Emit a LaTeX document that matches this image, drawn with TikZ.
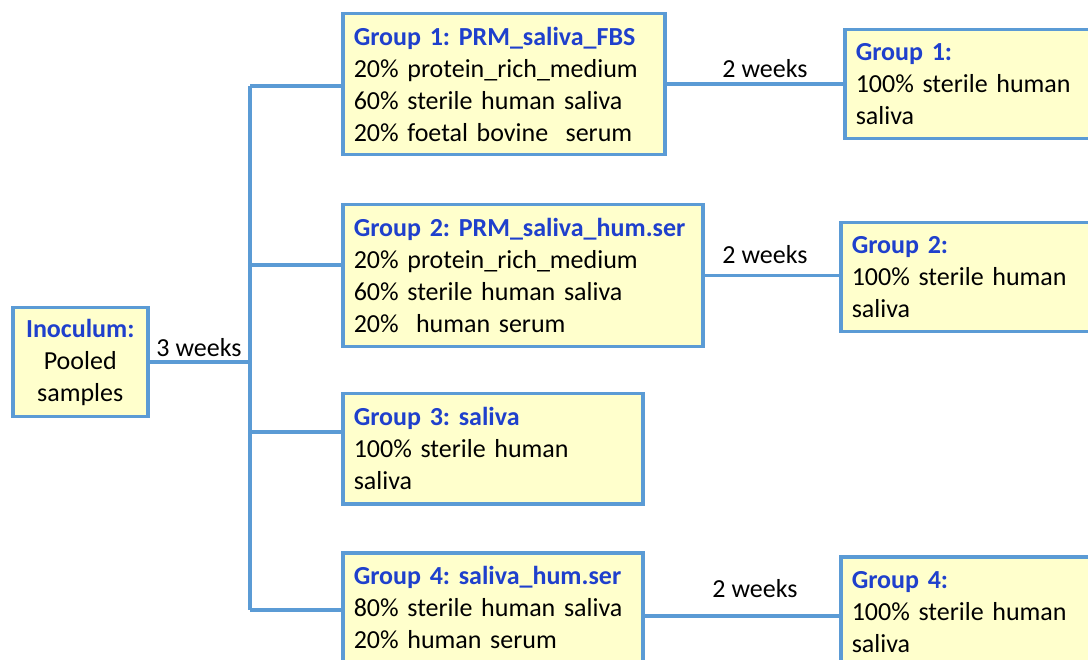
\documentclass[tikz,border=0pt]{standalone}
\usepackage{fontspec}
\setmainfont{Carlito}
\frenchspacing
\definecolor{boxblue}{RGB}{91,155,213}
\definecolor{boxfill}{RGB}{255,255,204}
\definecolor{titleblue}{RGB}{31,64,204}
\newcommand{\grouptitle}[1]{\mbox{\textcolor{titleblue}{\textbf{#1}}}}
\tikzset{
    groupbox/.style={draw=boxblue, line width=3.5pt, fill=boxfill, anchor=north west,
        align=left, inner xsep=11pt, inner ysep=0pt, font=\fontsize{26}{32}\selectfont},
    link/.style={draw=boxblue, line width=3.5pt},
    weeks/.style={font=\fontsize{26}{32}\selectfont},
}

\begin{document}
\begin{tikzpicture}[x=1pt,y=-1pt]
    \useasboundingbox (0,0) rectangle (1088,660);
    \clip (0,0) rectangle (1088,660);

    % Inoculum
    \node[groupbox, align=center, text width=113pt, minimum height=109pt] (inoc) at (11,306)
        {\grouptitle{Inoculum:}\\Pooled\\samples};

    % first stage groups
    \node[groupbox, text width=300pt, minimum height=141pt] (g1) at (341,12)
        {\grouptitle{Group 1: PRM\_saliva\_FBS}\\20\% protein\_rich\_medium\\60\% sterile human saliva\\20\% foetal bovine\ \ serum};
    \node[groupbox, text width=338pt, minimum height=142pt] (g2) at (341,203)
        {\grouptitle{Group 2: PRM\_saliva\_hum.ser}\\20\% protein\_rich\_medium\\60\% sterile human saliva\\20\%\ \ human serum};
    \node[groupbox, text width=278pt, minimum height=110pt] (g3) at (341,392)
        {\grouptitle{Group 3: saliva}\\100\% sterile human\\saliva};
    \node[groupbox, text width=278pt, minimum height=110pt] (g4) at (341,551)
        {\grouptitle{Group 4: saliva\_hum.ser}\\80\% sterile human saliva\\20\% human serum};

    % second stage groups
    \node[groupbox, text width=240pt, minimum height=109pt] (r1) at (843,28)
        {\grouptitle{Group 1:}\\100\% sterile human\\saliva};
    \node[groupbox, text width=240pt, minimum height=109pt] (r2) at (839,221)
        {\grouptitle{Group 2:}\\100\% sterile human\\saliva};
    \node[groupbox, text width=240pt, minimum height=110pt] (r4) at (839,555)
        {\grouptitle{Group 4:}\\100\% sterile human\\saliva};

    % trunk and branches
    \coordinate (b1) at (250,86);
    \coordinate (b2) at (250,265);
    \coordinate (b3) at (250,432);
    \coordinate (b4) at (250,610);
    \draw[link] (inoc.east) -- (inoc.east -| b1);
    \draw[link] (b1) -- (b4);
    \draw[link] (b1) -- (b1 -| g1.west);
    \draw[link] (b2) -- (b2 -| g2.west);
    \draw[link] (b3) -- (b3 -| g3.west);
    \draw[link] (b4) -- (b4 -| g4.west);
    \node[weeks] at (199,348) {3 weeks};

    % after 2 weeks
    \draw[link] (g1.east) -- (g1.east -| r1.west);
    \draw[link] (g2.east) -- (g2.east -| r2.west);
    \draw[link] ([yshift=-8pt]g4.east) -- ([yshift=-8pt]g4.east -| r4.west);
    \node[weeks] at (765,69) {2 weeks};
    \node[weeks] at (765,255) {2 weeks};
    \node[weeks] at (755,589) {2 weeks};
\end{tikzpicture}
\end{document}
